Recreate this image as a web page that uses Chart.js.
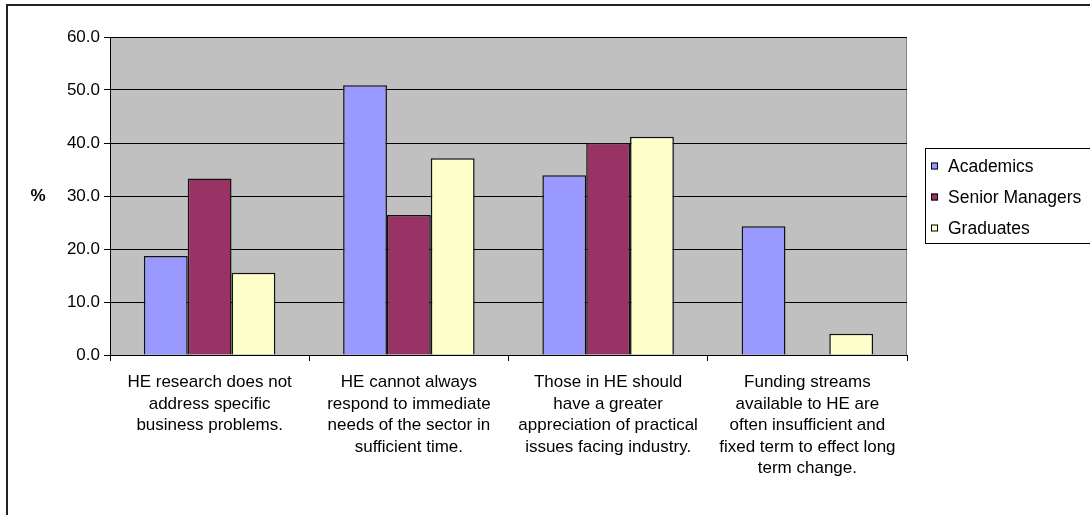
<!DOCTYPE html>
<html>
<head>
<meta charset="utf-8">
<script src="https://cdn.jsdelivr.net/npm/chart.js@4.4.1/dist/chart.umd.min.js"></script>
<style>
  html, body { margin: 0; padding: 0; background: #fff; }
  #wrap { width: 1090px; height: 515px; position: relative; }
</style>
</head>
<body>
<div id="wrap"><canvas id="chart" width="1090" height="515"></canvas></div>
<script>
// statements, pre-wrapped the way they sit under the axis
const categories = [
  ['HE research does not', 'address specific', 'business problems.'],
  ['HE cannot always', 'respond to immediate', 'needs of the sector in', 'sufficient time.'],
  ['Those in HE should', 'have a greater', 'appreciation of practical', 'issues facing industry.'],
  ['Funding streams', 'available to HE are', 'often insufficient and', 'fixed term to effect long', 'term change.']
];
const seriesNames = ['Academics', 'Senior Managers', 'Graduates'];
const academics = [18.7, 50.9, 33.9, 24.3];
const seniorManagers = [33.3, 26.4, 40.0, 0];
const graduates = [15.5, 37.1, 41.2, 4.0];
const seriesColors = ['#9999FF', '#993366', '#FFFFCC'];
const yTicks = [0, 10, 20, 30, 40, 50, 60];

const FONT = "'Liberation Sans', Arial, sans-serif";
const FONT_SIZE = 17;

// grey plot background, outer frame, "%" caption and legend
const backdrop = {
  id: 'backdrop',
  beforeDraw(chart) {
    const { ctx, chartArea: a } = chart;
    ctx.save();
    ctx.fillStyle = '#fff';
    ctx.fillRect(0, 0, chart.width, chart.height);
    ctx.fillStyle = '#C0C0C0';
    ctx.fillRect(a.left, a.top, a.right - a.left, a.bottom - a.top);
    ctx.strokeStyle = '#808080';
    ctx.lineWidth = 1;
    ctx.strokeRect(a.left + 0.5, a.top + 0.5, a.right - a.left - 1, a.bottom - a.top);
    ctx.restore();
  },
  afterDraw(chart) {
    const { ctx, chartArea: a } = chart;
    ctx.save();
    ctx.strokeStyle = '#222';
    ctx.lineWidth = 2;
    ctx.strokeRect(7, 5, chart.width + 20, chart.height + 20);

    ctx.fillStyle = '#000';
    ctx.font = 'bold ' + FONT_SIZE + 'px ' + FONT;
    ctx.textAlign = 'center';
    ctx.textBaseline = 'middle';
    ctx.fillText('%', 38, (a.top + a.bottom) / 2);

    const lx = 925, ly = 148, lw = 200, lh = 95;
    ctx.fillStyle = '#fff';
    ctx.fillRect(lx, ly, lw, lh);
    ctx.strokeStyle = '#000';
    ctx.lineWidth = 1;
    ctx.strokeRect(lx + 0.5, ly + 0.5, lw, lh);
    ctx.font = '17.5px ' + FONT;
    ctx.textAlign = 'left';
    chart.data.datasets.forEach((ds, i) => {
      const cy = ly + 18 + i * 31;
      ctx.fillStyle = ds.backgroundColor;
      ctx.fillRect(lx + 6, cy - 3.5, 7, 7);
      ctx.strokeStyle = '#000';
      ctx.strokeRect(lx + 6.5, cy - 3, 6, 6);
      ctx.fillStyle = '#000';
      ctx.fillText(ds.label, lx + 23, cy + 1);
    });
    ctx.restore();
  }
};

const values = [academics, seniorManagers, graduates];

new Chart(document.getElementById('chart'), {
  type: 'bar',
  data: {
    labels: categories,
    datasets: seriesNames.map((name, i) => ({
      label: name,
      data: values[i],
      backgroundColor: seriesColors[i],
      borderColor: '#111',
      borderWidth: 1.5,
      categoryPercentage: 0.66,
      barPercentage: 1
    }))
  },
  options: {
    responsive: false,
    animation: false,
    devicePixelRatio: 1,
    layout: { padding: { left: 0, top: 37, right: 183, bottom: 0 } },
    plugins: { legend: { display: false }, tooltip: { enabled: false } },
    scales: {
      x: {
        grid: { display: true, drawOnChartArea: false, color: '#000', tickLength: 6, offset: true },
        border: { color: '#000', width: 1 },
        ticks: {
          color: '#000',
          font: { family: FONT, size: FONT_SIZE, lineHeight: 21.5 / FONT_SIZE },
          padding: 11,
          maxRotation: 0,
          autoSkip: false
        },
        afterFit(scale) { scale.height = 160; }
      },
      y: {
        min: 0,
        max: 60,
        afterBuildTicks(scale) { scale.ticks = yTicks.map(v => ({ value: v })); },
        grid: { color: '#000', lineWidth: 1, tickLength: 6 },
        border: { color: '#000', width: 1 },
        ticks: {
          color: '#000',
          font: { family: FONT, size: FONT_SIZE },
          padding: 4,
          callback: v => v.toFixed(1)
        },
        afterFit(scale) { scale.width = 110; }
      }
    }
  },
  plugins: [backdrop]
});
</script>
</body>
</html>
